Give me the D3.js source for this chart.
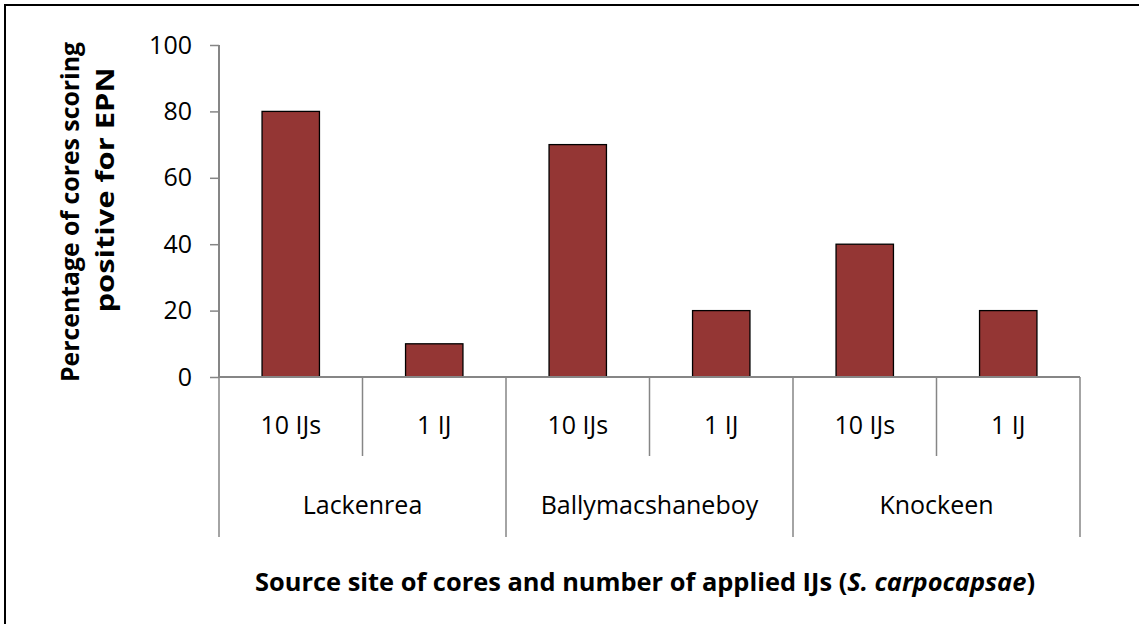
<!DOCTYPE html>
<html>
<head>
<meta charset="utf-8">
<script src="https://cdnjs.cloudflare.com/ajax/libs/d3/7.8.5/d3.min.js"></script>
<style>
  body { margin: 0; background: #fff; }
  text { font-family: "Open Sans", "Noto Sans", sans-serif; }
</style>
</head>
<body>
<svg width="1139" height="624"></svg>
<script>
// values
const sites = ["Lackenrea", "Ballymacshaneboy", "Knockeen"];
const doses = ["10 IJs", "1 IJ"];
const percentPositive = [80, 10, 70, 20, 40, 20];
const yTicks = [0, 20, 40, 60, 80, 100];

const data = [];
sites.forEach((s, i) => doses.forEach((d, j) => {
  data.push({ site: s, dose: d, key: s + "|" + d, value: percentPositive[i * doses.length + j] });
}));

const svg = d3.select("svg"),
    axisColor = "#868686",
    barColor = "#943634";

// chart frame (right/bottom edges run off the picture)
svg.append("rect")
    .attr("x", 5).attr("y", 5)
    .attr("width", 1200).attr("height", 700)
    .attr("fill", "none")
    .attr("stroke", "#000")
    .attr("stroke-width", 2);

const x = d3.scaleBand()
    .domain(data.map(d => d.key))
    .range([219, 1080])
    .paddingInner(0.6)
    .paddingOuter(0.3);

const step = x.step();
const left = 219;

const y = d3.scaleLinear()
    .domain([0, 100])
    .range([377, 45]);

// y axis
const yAxis = svg.append("g")
    .attr("transform", "translate(" + left + ",0)")
    .call(d3.axisLeft(y).tickValues(yTicks).tickSize(9).tickPadding(18));
yAxis.select(".domain").attr("stroke", axisColor).attr("stroke-width", 2).attr("d", "M0," + y(100) + "V" + y(0));
yAxis.selectAll(".tick line").attr("stroke", axisColor).attr("stroke-width", 1.5);
yAxis.selectAll(".tick text")
    .attr("fill", "#000")
    .attr("font-size", 25)
    .attr("font-family", "'Open Sans', sans-serif");

// bars
svg.append("g").selectAll("rect")
  .data(data)
  .join("rect")
    .attr("x", d => x(d.key))
    .attr("y", d => y(d.value))
    .attr("width", x.bandwidth())
    .attr("height", d => y(0) - y(d.value))
    .attr("fill", barColor)
    .attr("stroke", "#000")
    .attr("stroke-width", 1.3);

// x axis base line
svg.append("line")
    .attr("x1", left).attr("x2", left + step * data.length)
    .attr("y1", y(0)).attr("y2", y(0))
    .attr("stroke", axisColor).attr("stroke-width", 2);

// category separators: short between doses, long between sites
d3.range(data.length + 1).forEach(i => {
  const long = i % doses.length === 0;
  svg.append("line")
      .attr("x1", left + i * step).attr("x2", left + i * step)
      .attr("y1", y(0)).attr("y2", long ? 537 : 456)
      .attr("stroke", axisColor).attr("stroke-width", 1.5);
});

// dose labels
svg.append("g").selectAll("text")
  .data(data)
  .join("text")
    .attr("x", d => x(d.key) + x.bandwidth() / 2)
    .attr("y", 434)
    .attr("text-anchor", "middle")
    .attr("font-size", 25)
    .text(d => d.dose);

// site labels
svg.append("g").selectAll("text")
  .data(sites)
  .join("text")
    .attr("x", (d, i) => left + (i + 0.5) * step * doses.length)
    .attr("y", 514)
    .attr("text-anchor", "middle")
    .attr("font-size", 25)
    .text(d => d);

// y title
const yTitle = [
  { text: "Percentage of cores scoring", x: 79, cy: 212, len: 340 },
  { text: "positive for EPN", x: 114, cy: 190, len: 245 }
];
yTitle.forEach(t => {
  svg.append("text")
      .attr("transform", "translate(" + t.x + "," + t.cy + ") rotate(-90)")
      .attr("text-anchor", "middle")
      .attr("font-size", 25)
      .attr("font-weight", "bold")
      .attr("textLength", t.len)
      .attr("lengthAdjust", "spacingAndGlyphs")
      .text(t.text);
});

// x title
const xt = svg.append("text")
    .attr("x", 645)
    .attr("y", 591)
    .attr("text-anchor", "middle")
    .attr("font-size", 25)
    .attr("font-weight", "bold")
    .attr("textLength", 780)
    .attr("lengthAdjust", "spacingAndGlyphs");
xt.append("tspan").text("Source site of cores and number of applied IJs (");
xt.append("tspan").attr("font-style", "italic").text("S. carpocapsae");
xt.append("tspan").text(")");
</script>
</body>
</html>
